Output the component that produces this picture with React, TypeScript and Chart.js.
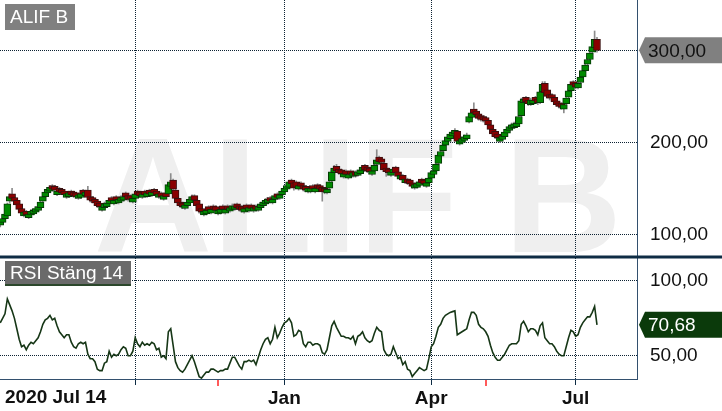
import React, { useEffect, useRef } from 'react';
import { Chart, registerables } from 'chart.js';

Chart.register(...registerables);

const FONT = '"Liberation Sans", Arial, sans-serif';

const seriesName = 'ALIF B';
const rsiName = 'RSI Stäng 14';
const startLabel = '2020 Jul 14';

// daily candles, index = trading day since 2020-07-14
const opens = [
  110,113,117,120,136,144,140,137,133,128,120,125,118,121,122,124,126,129,136,141,
  145,147,153,152,143,150,149,147,140,141,147,146,145,139,140,148,142,148,141,140,
  138,136,134,126,129,130,133,140,133,141,134,136,137,145,142,142,135,139,147,146,
  140,147,141,148,142,149,147,140,145,138,145,144,152,159,148,139,135,134,128,131,
  134,137,142,137,133,128,121,122,130,123,131,130,122,123,131,123,131,125,127,127,
  133,131,130,124,132,125,132,125,131,126,129,131,133,134,140,134,138,144,139,143,
  146,149,151,159,156,157,149,156,153,152,146,146,153,146,154,153,151,150,145,150,
  158,167,174,171,170,162,169,161,169,163,168,164,166,169,175,173,172,165,169,176,
  184,182,177,172,171,164,167,173,168,160,164,156,160,159,156,150,151,153,160,159,
  152,156,161,165,169,177,185,191,197,201,204,207,209,212,198,200,202,204,222,227,
  236,234,231,229,228,227,224,219,214,212,209,201,203,206,210,213,215,216,217,220,
  229,243,249,246,241,242,249,247,243,255,264,257,252,252,249,245,243,242,236,242,
  249,256,266,264,259,265,271,278,285,290,298,303,312,
];
const highs = [
  116,118,123,134,144,150,141,138,134,129,126,126,124,127,128,130,132,136,143,147,
  151,153,154,153,149,151,150,148,146,147,148,147,146,145,146,149,148,152,142,141,
  139,137,135,132,135,136,139,141,139,142,140,142,143,146,143,143,141,145,148,147,
  146,148,147,149,148,150,148,146,146,144,146,156,166,160,149,140,136,135,134,137,
  140,143,143,138,134,129,127,128,131,129,132,131,128,129,132,129,132,131,133,133,
  134,132,131,130,133,131,133,131,132,132,135,137,139,140,141,140,144,145,145,149,
  152,155,159,160,157,158,155,157,154,153,152,152,154,152,155,154,152,151,151,159,
  170,175,176,172,171,168,170,167,170,169,169,170,172,175,176,174,173,171,177,192,
  185,183,178,173,172,170,173,174,169,166,165,162,161,160,157,156,157,159,161,160,
  158,163,169,171,178,188,192,199,204,208,211,213,215,213,205,206,208,210,230,234,
  243,236,232,230,229,228,225,220,215,213,210,207,209,213,216,219,221,222,223,230,
  248,249,250,247,248,248,250,248,257,266,266,258,253,253,250,246,244,243,243,250,
  258,265,267,265,266,273,280,286,292,299,306,321,314,
];
const lows = [
  108,111,116,118,134,138,134,131,125,121,119,119,117,120,121,123,125,128,135,140,
  144,146,147,146,142,144,143,142,139,140,141,140,139,138,139,142,141,139,135,134,
  132,129,128,125,128,129,132,134,132,135,133,135,136,139,136,136,134,138,141,140,
  139,141,140,142,141,143,141,139,139,137,139,143,151,147,137,132,129,128,127,130,
  133,136,135,129,123,122,120,121,124,122,125,124,121,122,125,122,125,124,126,126,
  127,125,124,123,126,124,126,124,125,125,128,130,132,133,134,133,137,138,138,142,
  145,148,150,153,148,150,148,150,147,146,145,145,147,145,148,147,136,144,144,149,
  157,166,167,165,164,161,163,160,163,162,162,163,165,168,168,167,166,164,168,175,
  177,176,168,163,165,163,166,165,161,159,157,155,154,153,150,149,150,152,154,153,
  151,155,160,164,168,176,184,190,196,200,203,206,208,199,197,199,201,203,221,226,
  230,228,224,223,222,221,217,212,207,204,202,200,202,205,209,212,214,215,216,218,
  228,242,242,240,240,241,243,241,242,254,252,248,246,246,242,239,237,236,232,241,
  248,255,260,258,258,264,270,277,284,289,297,302,298,
];
const closes = [
  115,117,122,133,141,139,136,132,127,123,124,121,122,125,126,128,130,135,141,146,
  149,151,149,148,147,146,145,143,144,145,143,142,141,143,144,144,146,140,137,136,
  134,131,130,130,133,134,137,136,137,137,138,140,141,141,138,138,139,144,143,142,
  144,143,145,144,146,145,143,144,141,142,141,154,157,149,139,134,131,130,132,135,
  138,141,137,131,125,124,125,126,126,127,127,126,126,127,127,127,127,129,131,131,
  129,127,126,128,128,129,128,129,127,130,133,135,137,138,136,138,142,140,143,147,
  150,153,157,155,150,151,153,152,149,148,150,150,149,150,150,149,146,146,149,157,
  168,172,169,167,166,166,165,165,165,167,164,168,170,173,170,169,168,169,175,181,
  179,178,170,168,167,168,171,167,163,164,159,160,156,155,152,154,155,157,156,155,
  156,161,167,169,176,186,190,197,202,206,209,211,213,201,202,204,206,208,228,232,
  232,230,226,225,224,223,219,214,209,206,205,205,207,211,214,217,219,220,221,228,
  245,247,244,242,246,246,245,243,255,263,254,250,248,248,244,241,239,238,241,248,
  256,263,262,260,264,271,278,284,290,297,304,312,300,
];

const rsiValues = [
  72,75,78,88,84,80,75,68,61,56,57,54,57,59,58,60,62,66,71,74,
  75,77,74,75,70,66,64,62,64,64,59,56,55,58,59,58,59,51,48,48,
  46,41,40,40,45,46,53,49,51,50,51,54,56,55,50,50,53,62,58,56,
  59,57,58,57,59,58,54,55,49,50,48,66,68,57,46,42,40,39,41,44,
  47,50,46,41,36,35,37,39,39,41,41,40,39,40,40,41,41,45,49,49,
  46,43,41,46,46,47,46,47,44,49,54,58,61,62,58,61,69,62,65,69,
  72,73,75,72,63,64,67,66,58,56,59,59,57,58,58,57,52,51,54,62,
  70,73,69,66,63,63,62,62,61,63,58,63,64,66,62,60,59,60,65,69,
  67,66,54,51,50,51,56,52,48,49,44,46,41,40,36,38,40,42,41,40,
  41,48,56,58,63,69,71,75,77,78,79,79.5,80,64,65,66,67,68,74,79,
  79,77,71,69,68,66,63,57,52,49,47,47,49,51,54,57,58,58,58,60,
  71,73,70,66,68,68,67,64,70,72,62,60,58,58,56,53,51,50,50,56,
  62,67,66,63,64,69,72,74,76,76,79,83,70.68,
];

const monthTickDays = [57, 120, 182, 243];
const monthTickLabels = ['', 'Jan', 'Apr', 'Jul'];
const priceTicks = [100, 200, 300];
const rsiTicks = [50, 100];
const markerDays = [92, 205];

const fmt = (v: number) => v.toFixed(2).replace('.', ',');

export default function App() {
  const ref = useRef<HTMLCanvasElement | null>(null);

  useEffect(() => {
    const canvas = ref.current;
    if (!canvas) return;

    const bodies = closes.map((c, i) => ({ x: i, y: [opens[i], c] }));
    const wicks = closes.map((_, i) => ({ x: i, y: [lows[i], highs[i]] }));
    const rsi = rsiValues.map((v, i) => ({ x: i, y: v }));
    const up = closes.map((c, i) => c >= opens[i]);

    const watermark = {
      id: 'watermark',
      beforeDraw(chart: any) {
        const { ctx } = chart;
        ctx.save();
        ctx.font = `bold 164px ${FONT}`;
        ctx.fillStyle = '#efefef';
        ctx.textAlign = 'center';
        ctx.textBaseline = 'alphabetic';
        ctx.fillText(seriesName, 358, 252);
        ctx.restore();
      },
    };

    const tag = (ctx: any, x: number, y: number, text: string, fill: string, color: string) => {
      const h = 26;
      ctx.beginPath();
      ctx.moveTo(x, y);
      ctx.lineTo(x + 6, y - h / 2);
      ctx.lineTo(722, y - h / 2);
      ctx.lineTo(722, y + h / 2);
      ctx.lineTo(x + 6, y + h / 2);
      ctx.closePath();
      ctx.fillStyle = fill;
      ctx.fill();
      ctx.fillStyle = color;
      ctx.font = `19px ${FONT}`;
      ctx.textAlign = 'left';
      ctx.textBaseline = 'middle';
      ctx.fillText(text, x + 9, y + 1);
    };

    const overlay = {
      id: 'overlay',
      afterDraw(chart: any) {
        const { ctx, scales } = chart;
        const area = chart.chartArea;
        ctx.save();
        const sepY = scales.y.bottom;
        ctx.strokeStyle = '#0e2c44';
        ctx.lineWidth = 3;
        ctx.beginPath();
        ctx.moveTo(0, sepY);
        ctx.lineTo(722, sepY);
        ctx.stroke();

        ctx.fillStyle = '#808080';
        ctx.fillRect(5, 4, 70, 26);
        ctx.fillStyle = '#ffffff';
        ctx.font = `19px ${FONT}`;
        ctx.textAlign = 'left';
        ctx.textBaseline = 'middle';
        ctx.fillText(seriesName, 10, 18);

        ctx.fillStyle = '#6a6a6a';
        ctx.fillRect(5, sepY + 4, 126, 25);
        ctx.fillStyle = '#2b472b';
        ctx.fillRect(5, sepY + 27, 126, 2);
        ctx.fillStyle = '#ffffff';
        ctx.fillText(rsiName, 10, sepY + 17);

        const last = closes.length - 1;
        tag(ctx, area.right + 2, scales.y.getPixelForValue(closes[last]), fmt(closes[last]), '#808080', '#111111');
        tag(ctx, area.right + 2, scales.yr.getPixelForValue(rsiValues[last]), fmt(rsiValues[last]), '#0b3a0b', '#ffffff');

        ctx.fillStyle = '#111111';
        ctx.font = `bold 19px ${FONT}`;
        ctx.textBaseline = 'alphabetic';
        ctx.fillText(startLabel, 5, 403);

        ctx.fillStyle = '#ff5a5a';
        markerDays.forEach((d) => {
          const x = scales.x.getPixelForValue(d);
          ctx.fillRect(Math.round(x) - 1, area.bottom + 1, 2, 6);
        });
        ctx.restore();
      },
    };

    const yFit = (s: any) => {
      s.width = 85;
      s.paddingTop = 0;
      s.paddingBottom = 0;
    };

    const chart = new Chart(canvas, {
      type: 'bar',
      data: {
        datasets: [
          {
            type: 'line',
            data: rsi,
            yAxisID: 'yr',
            borderColor: '#163616',
            borderWidth: 1.6,
            pointRadius: 0,
            tension: 0,
            order: 1,
          } as any,
          {
            type: 'bar',
            data: bodies,
            yAxisID: 'y',
            grouped: false,
            barThickness: 7,
            borderWidth: 1,
            borderSkipped: false,
            backgroundColor: up.map((u) => (u ? '#008a00' : '#8a0000')),
            borderColor: up.map((u) => (u ? '#063806' : '#3a1010')),
            order: 2,
          } as any,
          {
            type: 'bar',
            data: wicks,
            yAxisID: 'y',
            grouped: false,
            barThickness: 1,
            borderWidth: 0,
            backgroundColor: '#8c8c8c',
            order: 3,
          } as any,
        ],
      },
      options: {
        responsive: false,
        animation: false,
        events: [],
        layout: { padding: 0 },
        plugins: { legend: { display: false }, tooltip: { enabled: false }, title: { display: false } },
        scales: {
          x: {
            type: 'linear',
            min: -0.1,
            max: 268.9,
            offset: false,
            afterBuildTicks: (s: any) => {
              s.ticks = monthTickDays.map((v) => ({ value: v }));
            },
            afterFit: (s: any) => {
              s.height = 32;
              s.paddingLeft = 0;
              s.paddingRight = 0;
            },
            grid: {
              offset: false,
              color: '#0d2233',
              lineWidth: 1,
              drawTicks: true,
              tickLength: 6,
              tickColor: '#0e2c44',
              tickWidth: 1,
              tickBorderDash: [],
            },
            border: { display: true, color: '#33506e', width: 1, dash: [1, 1] },
            ticks: {
              autoSkip: false,
              maxRotation: 0,
              padding: 2,
              color: '#111111',
              font: { family: FONT, size: 19, weight: 'bold' },
              callback: (v: any) => {
                const k = monthTickDays.indexOf(Number(v));
                return k >= 0 ? monthTickLabels[k] : '';
              },
            },
          },
          y: {
            type: 'linear',
            position: 'right',
            stack: 'panels',
            stackWeight: 257,
            min: 75.3,
            max: 354.7,
            afterBuildTicks: (s: any) => {
              s.ticks = priceTicks.map((v) => ({ value: v }));
            },
            afterFit: yFit,
            grid: { color: '#0d2233', lineWidth: 1, drawTicks: false },
            border: { display: true, color: '#33506e', width: 1, dash: [1, 1] },
            ticks: {
              padding: 13,
              color: '#111111',
              font: { family: FONT, size: 19 },
              callback: (v: any) => fmt(Number(v)),
            },
          },
          yr: {
            type: 'linear',
            position: 'right',
            stack: 'panels',
            stackWeight: 122,
            min: 34.4,
            max: 116.06,
            afterBuildTicks: (s: any) => {
              s.ticks = rsiTicks.map((v) => ({ value: v }));
            },
            afterFit: yFit,
            grid: { color: '#0d2233', lineWidth: 1, drawTicks: false },
            border: { display: true, color: '#33506e', width: 1, dash: [1, 1] },
            ticks: {
              padding: 13,
              color: '#111111',
              font: { family: FONT, size: 19 },
              callback: (v: any) => fmt(Number(v)),
            },
          },
        },
      } as any,
      plugins: [watermark, overlay],
    });

    return () => chart.destroy();
  }, []);

  return (
    <div style={{ position: 'fixed', left: 0, top: 0, width: 722, height: 411, background: '#ffffff' }}>
      <canvas ref={ref} width={722} height={411} style={{ display: 'block', width: 722, height: 411 }} />
    </div>
  );
}
